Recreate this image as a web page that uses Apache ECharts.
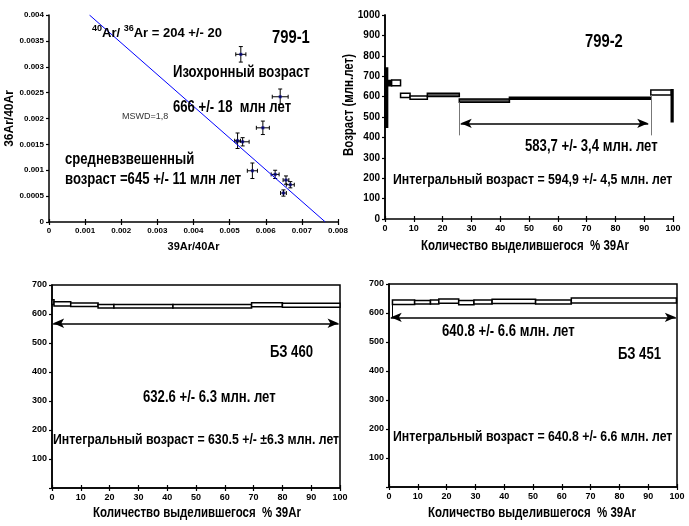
<!DOCTYPE html>
<html>
<head>
<meta charset="utf-8">
<script src="https://cdn.jsdelivr.net/npm/echarts@6/dist/echarts.min.js"></script>
<style>
html, body { margin: 0; background: #fff; }
#chart { width: 689px; height: 526px; }
</style>
</head>
<body>
<div id="chart"></div>
<script>
// 799-1 isochron points (39Ar/40Ar, 36Ar/40Ar) and their errors
var isoX = [0.00531, 0.00640, 0.00592, 0.00522, 0.00536, 0.00563, 0.00626, 0.00656, 0.00668, 0.00649];
var isoY = [0.00324, 0.00242, 0.00182, 0.00157, 0.00155, 0.00099, 0.00092, 0.00081, 0.00072, 0.00056];
var isoErrX = [0.00014, 0.00022, 0.00018, 0.00008, 0.00018, 0.00014, 0.00011, 0.00008, 0.00011, 0.00008];
var isoErrY = [0.00015, 0.00015, 0.00013, 0.00015, 0.00008, 0.00015, 0.00008, 0.00008, 0.00006, 0.00006];
var isoLineX = [0.00112, 0.00765];
var isoLineY = [0.004, 0];

// 799-2 age spectrum: step from, step to (% 39Ar), age, error (Ma)
var p2From = [0, 0.9, 2.3, 5.4, 8.7, 14.7, 25.8, 43.2, 92.3, 99.4];
var p2To = [0.9, 2.3, 5.4, 8.7, 14.7, 25.8, 43.2, 92.3, 99.4, 100];
var p2Age = [595, 666, 667, 606, 595, 608, 580, 592, 620, 555];
var p2Err = [145, 13, 14, 10, 8, 8, 8, 5, 12, 78];
var p2Plateau = [25.8, 92.3];

// БЗ 460
var p3From = [0, 0.7, 6.5, 16, 21.5, 42, 69.3, 80];
var p3To = [0.7, 6.5, 16, 21.5, 42, 69.3, 80, 100];
var p3Age = [641, 635, 632, 627, 627, 627, 632, 630];
var p3Err = [8, 7, 6, 6, 6, 6, 7, 7];

// БЗ 451
var p4From = [1.2, 8.9, 14.4, 17.3, 24.2, 29.5, 35.8, 50.9, 63.3];
var p4To = [8.9, 14.4, 17.3, 24.2, 29.5, 35.8, 50.9, 63.3, 99.8];
var p4Age = [637, 637, 638, 641, 636, 638, 640, 638, 643];
var p4Err = [8, 6, 7, 7.5, 7.5, 7, 7, 7, 8.5];

var xLabel = 'Количество выделившегося  % 39Ar';

// Liberation Sans Bold squeezed to 82% stands in for Arial Narrow Bold
var SANS = "'Liberation Sans',Arial,sans-serif";
var p2Fill = ['#000', '#000', '#fff', '#fff', '#fff', '#555', '#555', '#000', '#fff', '#000'];

var myChart = echarts.init(document.getElementById('chart'));

function tickLabel(size) {
    return { color: '#000', fontFamily: SANS, fontWeight: 'bold', fontSize: size, margin: 5 };
}
function noZero(v) { return v === 0 ? '' : String(v); }
function plain(v) { return String(v); }
function valAxis(grid, min, max, interval, extra) {
    var a = {
        type: 'value', gridIndex: grid, min: min, max: max, interval: interval,
        axisLine: { show: true, onZero: false, lineStyle: { color: '#000', width: 1.5 } },
        axisTick: { show: true, length: 3, lineStyle: { color: '#000', width: 1.2 } },
        splitLine: { show: false },
        axisLabel: tickLabel(9)
    };
    for (var k in extra) a[k] = extra[k];
    return a;
}
// second x axis only for the inner half of the cross ticks
function innerTicks(grid, min, max, interval) {
    return {
        type: 'value', gridIndex: grid, min: min, max: max, interval: interval, position: 'bottom',
        axisLine: { show: false }, axisLabel: { show: false }, splitLine: { show: false },
        axisTick: { show: true, inside: true, length: 3, lineStyle: { color: '#000', width: 1.2 } }
    };
}
function stepData(from, to, age, err) {
    return from.map(function (f, i) { return [f, to[i], age[i], err[i]]; });
}
function stepSeries(idx, from, to, age, err, fills) {
    return {
        type: 'custom', xAxisIndex: idx, yAxisIndex: idx,
        data: stepData(from, to, age, err),
        encode: { x: [0, 1], y: 2 },
        renderItem: function (params, api) {
            var a = api.coord([api.value(0), api.value(2) + api.value(3)]);
            var b = api.coord([api.value(1), api.value(2) - api.value(3)]);
            return {
                type: 'rect',
                shape: { x: a[0], y: a[1], width: b[0] - a[0], height: b[1] - a[1] },
                style: { fill: fills ? fills[params.dataIndex] : '#fff', stroke: '#000', lineWidth: 1.5 }
            };
        }
    };
}
function arrowLine(x1, x2, y) {
    return [{ coord: [x1, y], symbol: 'arrow', symbolSize: [7, 11] },
            { coord: [x2, y], symbol: 'arrow', symbolSize: [7, 11] }];
}
function markerLine(x, y1, y2, color) {
    return [{ coord: [x, y1], symbol: 'none', lineStyle: { color: color, width: 1 } },
            { coord: [x, y2], symbol: 'none' }];
}
function txt(x, y, s, size, opt) {
    opt = opt || {};
    return {
        type: 'text', z: 100, x: x, y: y,
        scaleX: opt.scale || 0.82, rotation: opt.rotation || 0,
        style: {
            text: s, x: 0, y: 0, fill: opt.fill || '#000', fontFamily: SANS,
            fontWeight: opt.weight || 'bold', fontSize: size,
            textAlign: opt.align || 'left', textVerticalAlign: 'middle'
        }
    };
}

var isoErrData = isoX.map(function (x, i) { return [x, isoY[i], isoErrX[i], isoErrY[i]]; });

myChart.setOption({
    backgroundColor: '#fff',
    animation: false,
    grid: [
        { left: 49, top: 15, width: 289, height: 207 },
        { left: 385, top: 15, width: 288, height: 204 },
        { left: 52, top: 285, width: 288, height: 203, show: true, borderColor: '#000', borderWidth: 1.5 },
        { left: 389, top: 284, width: 288, height: 203, show: true, borderColor: '#000', borderWidth: 1.5 }
    ],
    xAxis: [
        valAxis(0, 0, 0.008, 0.001, { axisLabel: tickLabel(8), name: '39Ar/40Ar', nameLocation: 'middle', nameGap: 19,
            nameTextStyle: { fontFamily: SANS, fontWeight: 'bold', fontSize: 11, color: '#000' } }),
        valAxis(1, 0, 100, 10),
        valAxis(2, 0, 100, 10),
        valAxis(3, 0, 100, 10),
        innerTicks(0, 0, 0.008, 0.001),
        innerTicks(1, 0, 100, 10),
        innerTicks(2, 0, 100, 10),
        innerTicks(3, 0, 100, 10)
    ],
    yAxis: [
        valAxis(0, 0, 0.004, 0.0005, { axisLabel: tickLabel(8), name: '36Ar/40Ar', nameLocation: 'middle', nameGap: 32,
            nameTextStyle: { fontFamily: SANS, fontWeight: 'bold', fontSize: 12, color: '#000' } }),
        valAxis(1, 0, 1000, 100, { axisLabel: Object.assign(tickLabel(10), { formatter: plain }) }),
        valAxis(2, 0, 700, 100, { axisLabel: Object.assign(tickLabel(9), { formatter: noZero }) }),
        valAxis(3, 0, 700, 100, { axisLabel: Object.assign(tickLabel(9), { formatter: noZero }) }),
        { type: 'value', gridIndex: 1, min: 0, max: 1000, position: 'right',
          axisLine: { show: true, lineStyle: { color: '#000', width: 1.5 } },
          axisTick: { show: false }, axisLabel: { show: false }, splitLine: { show: false } }
    ],
    series: [
        {
            type: 'line', xAxisIndex: 0, yAxisIndex: 0, symbol: 'none',
            data: isoLineX.map(function (x, i) { return [x, isoLineY[i]]; }),
            lineStyle: { color: '#0000ff', width: 1 }
        },
        {
            type: 'custom', xAxisIndex: 0, yAxisIndex: 0, data: isoErrData, encode: { x: 0, y: 1 },
            renderItem: function (params, api) {
                var x = api.value(0), y = api.value(1), ex = api.value(2), ey = api.value(3);
                var l = api.coord([x - ex, y]), r = api.coord([x + ex, y]);
                var t = api.coord([x, y + ey]), b = api.coord([x, y - ey]);
                var st = { stroke: '#000', lineWidth: 1 };
                var c = 2;
                return {
                    type: 'group', children: [
                        { type: 'line', shape: { x1: l[0], y1: l[1], x2: r[0], y2: r[1] }, style: st },
                        { type: 'line', shape: { x1: t[0], y1: t[1], x2: b[0], y2: b[1] }, style: st },
                        { type: 'line', shape: { x1: l[0], y1: l[1] - c, x2: l[0], y2: l[1] + c }, style: st },
                        { type: 'line', shape: { x1: r[0], y1: r[1] - c, x2: r[0], y2: r[1] + c }, style: st },
                        { type: 'line', shape: { x1: t[0] - c, y1: t[1], x2: t[0] + c, y2: t[1] }, style: st },
                        { type: 'line', shape: { x1: b[0] - c, y1: b[1], x2: b[0] + c, y2: b[1] }, style: st }
                    ]
                };
            }
        },
        {
            type: 'scatter', xAxisIndex: 0, yAxisIndex: 0, symbol: 'rect', symbolSize: 3,
            itemStyle: { color: '#000080' },
            data: isoX.map(function (x, i) { return [x, isoY[i]]; })
        },
        stepSeries(1, p2From, p2To, p2Age, p2Err, p2Fill),
        stepSeries(2, p3From, p3To, p3Age, p3Err),
        stepSeries(3, p4From, p4To, p4Age, p4Err),
        {
            type: 'line', xAxisIndex: 1, yAxisIndex: 1, data: [],
            markLine: {
                silent: true, label: { show: false }, lineStyle: { color: '#000', width: 1.5, type: 'solid' },
                data: [
                    arrowLine(26.3, 91.4, 469),
                    markerLine(p2Plateau[0], 572, 410, '#777'),
                    markerLine(p2Plateau[1], 608, 410, '#777')
                ]
            }
        },
        {
            type: 'line', xAxisIndex: 2, yAxisIndex: 2, data: [],
            markLine: {
                silent: true, label: { show: false }, lineStyle: { color: '#000', width: 1.5, type: 'solid' },
                data: [arrowLine(0.4, 99.5, 568)]
            }
        },
        {
            type: 'line', xAxisIndex: 3, yAxisIndex: 3, data: [],
            markLine: {
                silent: true, label: { show: false }, lineStyle: { color: '#000', width: 1.5, type: 'solid' },
                data: [arrowLine(0.6, 99.6, 585), markerLine(1.2, 629, 585, '#000')]
            }
        }
    ],
    graphic: [
        {
            type: 'text', z: 100,
            style: {
                x: 92, y: 32, textVerticalAlign: 'middle',
                text: '{s|40}{n|Ar/ }{s|36}{n|Ar = 204 +/- 20}',
                rich: {
                    s: { fontFamily: SANS, fontWeight: 'bold', fontSize: 9, verticalAlign: 'top', lineHeight: 16, fill: '#000' },
                    n: { fontFamily: SANS, fontWeight: 'bold', fontSize: 13, verticalAlign: 'bottom', lineHeight: 16, fill: '#000' }
                }
            }
        },
        txt(272, 38, '799-1', 18),
        txt(173, 73, 'Изохронный возраст', 16),
        txt(122, 117, 'MSWD=1,8', 9, { scale: 1, weight: 'normal', fill: '#333' }),
        txt(173, 108, '666 +/- 18  млн лет', 16),
        txt(65, 160, 'средневзвешенный', 16),
        txt(65, 180, 'возраст =645 +/- 11 млн лет', 16),
        txt(585, 42, '799-2', 18),
        txt(525, 147, '583,7 +/- 3,4 млн. лет', 16),
        txt(393, 180, 'Интегральный возраст = 594,9 +/- 4,5 млн. лет', 15),
        txt(270, 353, 'БЗ 460', 16),
        txt(143, 398, '632.6 +/- 6.3 млн. лет', 16),
        txt(53, 440, 'Интегральный возраст = 630.5 +/- ±6.3 млн. лет', 15),
        txt(442, 332, '640.8 +/- 6.6 млн. лет', 16),
        txt(618, 355, 'БЗ 451', 16),
        txt(393, 437, 'Интегральный возраст = 640.8 +/- 6.6 млн. лет', 15),
        // axis titles of the age spectra
        txt(525, 246, xLabel, 14, { align: 'center' }),
        txt(197, 513, xLabel, 14, { align: 'center' }),
        txt(532, 513, xLabel, 14, { align: 'center' }),
        txt(349, 105, 'Возраст (млн.лет)', 14, { align: 'center', rotation: Math.PI / 2 })
    ]
});
</script>
</body>
</html>
